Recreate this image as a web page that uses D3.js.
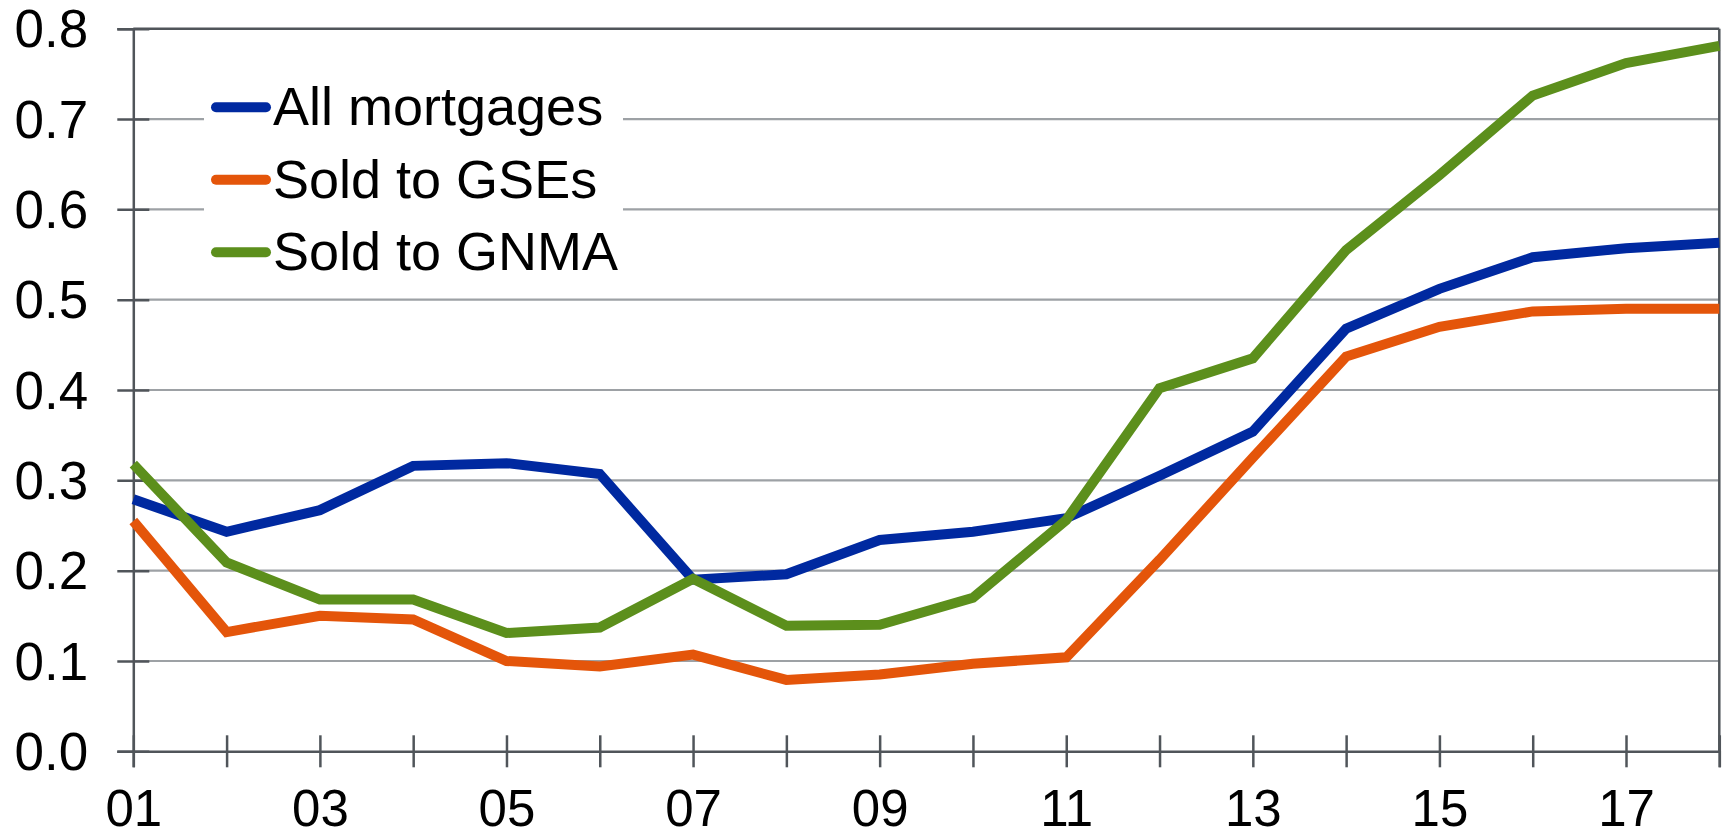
<html>
<head>
<meta charset="utf-8">
<style>
  body { margin: 0; background: #fff; }
  text { font-family: "Liberation Sans", Arial, sans-serif; fill: #000; }
</style>
</head>
<body>
<script src="https://d3js.org/d3.v7.min.js"></script>
<svg id="chart" width="1729" height="837"></svg>
<script>
// years 2001-2018, labelled by two digits
var years = ["01","02","03","04","05","06","07","08","09","10","11","12","13","14","15","16","17","18"];
var allMortgages = [0.279, 0.243, 0.267, 0.316, 0.319, 0.307, 0.190, 0.196, 0.234, 0.243, 0.258, 0.305, 0.354, 0.468, 0.512, 0.547, 0.557, 0.563];
var soldGSEs     = [0.255, 0.132, 0.150, 0.146, 0.100, 0.094, 0.107, 0.079, 0.085, 0.097, 0.104, 0.212, 0.325, 0.437, 0.470, 0.487, 0.490, 0.490];
var soldGNMA     = [0.318, 0.209, 0.168, 0.168, 0.131, 0.137, 0.191, 0.139, 0.140, 0.170, 0.256, 0.402, 0.435, 0.555, 0.638, 0.726, 0.762, 0.781];
var seriesNames  = ["All mortgages", "Sold to GSEs", "Sold to GNMA"];
var seriesColors = ["#0029a0", "#e4550a", "#5c8f1c"];
var yTicks = [0, 0.1, 0.2, 0.3, 0.4, 0.5, 0.6, 0.7, 0.8];

var series = [allMortgages, soldGSEs, soldGNMA];

var svg = d3.select("#chart");
var plotLeft = 133.3, plotRight = 1719.3, plotTop = 28.7, plotBottom = 751.3;

var x = d3.scalePoint().domain(years).range([plotLeft, plotRight]).padding(0);
var y = d3.scaleLinear().domain([0, 0.8]).range([plotBottom, plotTop]);

// gridlines
svg.append("g").selectAll("line")
    .data(yTicks.filter(d => d > 0 && d < 0.8))
    .join("line")
    .attr("x1", plotLeft).attr("x2", plotRight)
    .attr("y1", d => y(d)).attr("y2", d => y(d))
    .attr("stroke", "#9da1a5").attr("stroke-width", 2.2);

// frame top + right
svg.append("line").attr("x1", plotLeft).attr("x2", plotRight).attr("y1", y(0.8)).attr("y2", y(0.8))
    .attr("stroke", "#50555a").attr("stroke-width", 2.5);
svg.append("line").attr("x1", plotRight).attr("x2", plotRight).attr("y1", plotTop).attr("y2", plotBottom)
    .attr("stroke", "#50555a").attr("stroke-width", 2.5);

// y axis
var yAxis = svg.append("g").attr("transform", "translate(" + plotLeft + ",0)")
    .call(d3.axisLeft(y).tickValues(yTicks).tickFormat(d3.format(".1f")).tickSize(16));
yAxis.select(".domain").attr("stroke", "#50555a").attr("stroke-width", 2.5);
yAxis.selectAll(".tick line").attr("x1", -16).attr("x2", 16).attr("stroke", "#50555a").attr("stroke-width", 2.5);
yAxis.selectAll(".tick text").attr("font-size", 53).attr("x", -45).attr("dy", "0.34em")
    .style("font-family", "'Liberation Sans', Arial, sans-serif");

// x axis
var xAxis = svg.append("g").attr("transform", "translate(0," + plotBottom + ")")
    .call(d3.axisBottom(x).tickFormat((d, i) => i % 2 === 0 ? d : "").tickSize(16));
xAxis.select(".domain").attr("stroke", "#50555a").attr("stroke-width", 2.5);
xAxis.selectAll(".tick line").attr("y1", -16).attr("y2", 16).attr("stroke", "#50555a").attr("stroke-width", 2.5);
xAxis.selectAll(".tick text").attr("font-size", 51).attr("y", 75).attr("dy", 0)
    .style("font-family", "'Liberation Sans', Arial, sans-serif");

// lines
var line = d3.line().x((d, i) => x(years[i])).y(d => y(d));
svg.append("g").selectAll("path")
    .data(series)
    .join("path")
    .attr("d", line)
    .attr("fill", "none")
    .attr("stroke", (d, i) => seriesColors[i])
    .attr("stroke-width", 10)
    .attr("stroke-linejoin", "miter");

// legend
var legend = svg.append("g");
legend.append("rect").attr("x", 204).attr("y", 72).attr("width", 419).attr("height", 215).attr("fill", "#fff");
var items = legend.selectAll("g.item").data(seriesNames).join("g").attr("class", "item")
    .attr("transform", (d, i) => "translate(0," + (107.3 + i * 72.5) + ")");
items.append("line").attr("x1", 216).attr("x2", 266).attr("y1", 0).attr("y2", 0)
    .attr("stroke", (d, i) => seriesColors[i]).attr("stroke-width", 10).attr("stroke-linecap", "round");
items.append("text").attr("x", 273).attr("y", 18).attr("font-size", 54).text(d => d);
</script>
</body>
</html>
